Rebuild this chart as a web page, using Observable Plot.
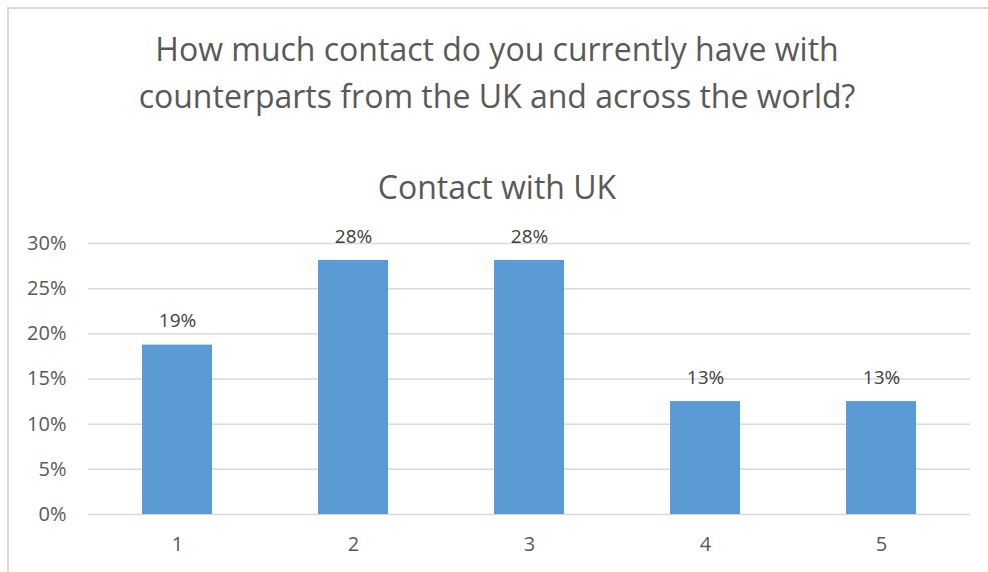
<!DOCTYPE html>
<html><head><meta charset="utf-8">
<script src="https://cdn.jsdelivr.net/npm/d3@7"></script>
<script src="https://cdn.jsdelivr.net/npm/@observablehq/plot@0.6"></script>
<style>
body{margin:0;background:#fff;font-family:"Open Sans",sans-serif;}
#wrap{position:relative;width:988px;height:572px;overflow:hidden;}
#frame{position:absolute;left:7px;top:7px;width:990px;height:600px;border-top:2px solid #D9D9D9;border-left:2px solid #D9D9D9;}
.t{position:absolute;left:0;width:994px;text-align:center;color:#595959;font-size:32px;}
#chart{position:absolute;left:0;top:200px;}
</style></head>
<body><div id="wrap"><div id="frame"></div>
<div class="t" style="top:25px;line-height:47px;">How much contact do you currently have with<br>counterparts from the UK and across the world?</div>
<div class="t" style="top:165px;">Contact with UK</div>
<div id="chart"></div></div>
<script>
const categories = ["1","2","3","4","5"];
const values = [0.1875, 0.28125, 0.28125, 0.125, 0.125];
const labels = ["19%","28%","28%","13%","13%"];
const yTicks = [0,0.05,0.1,0.15,0.2,0.25,0.3];
const data = categories.map((c,i)=>({cat:c, v:values[i], label:labels[i]}));
const plot = Plot.plot({
  width: 988, height: 372,
  marginLeft: 88, marginRight: 18, marginTop: 43, marginBottom: 58,
  style: {fontFamily: '"Open Sans",sans-serif', fontSize: "20px", color: "#595959"},
  x: {domain: categories, paddingInner: 0.6, paddingOuter: 0.3, label: null, tickSize: 0, tickPadding: 22},
  y: {domain: [0,0.3], ticks: yTicks, tickFormat: d => Math.round(d*100)+"%", label: null, tickSize: 0, tickPadding: 22},
  marks: [
    Plot.gridY(yTicks, {stroke: "#D9D9D9", strokeOpacity: 1, strokeWidth: 1.5}),
    Plot.barY(data, {x: "cat", y: "v", fill: "#5B9BD5"}),
    Plot.text(data, {x: "cat", y: "v", text: "label", dy: -24, fill: "#404040", fontSize: 19})
  ]
});
document.getElementById("chart").append(plot);
</script></body></html>
